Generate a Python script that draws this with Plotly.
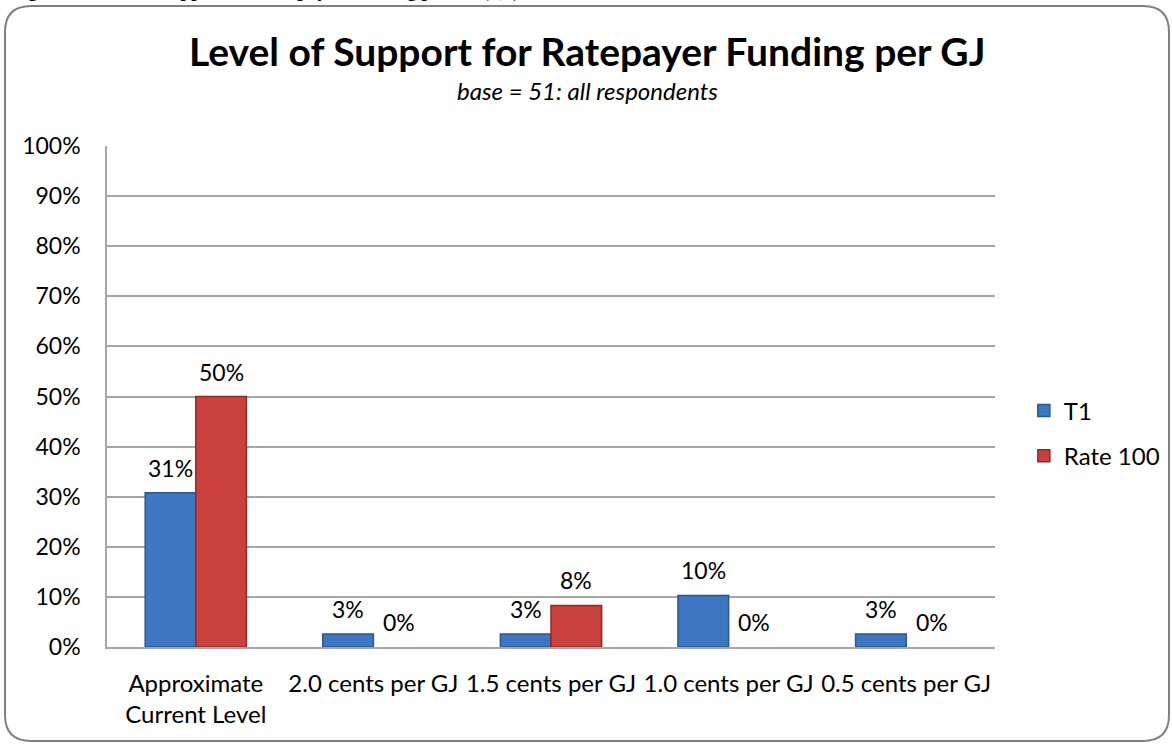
import plotly.graph_objects as go

# Survey results: share of respondents supporting each funding level
categories = [
    "Approximate<br>Current Level",
    "2.0 cents per GJ",
    "1.5 cents per GJ",
    "1.0 cents per GJ",
    "0.5 cents per GJ",
]
t1_share = [0.308, 0.026, 0.026, 0.103, 0.026]
rate100_share = [0.50, 0.0, 0.083, 0.0, 0.0]
y_ticks = [0, 0.1, 0.2, 0.3, 0.4, 0.5, 0.6, 0.7, 0.8, 0.9, 1.0]

FONT = "Lato, 'Open Sans', sans-serif"
BLUE = "#3D77C2"
BLUE_EDGE = "#2A5790"
RED = "#C9403C"
RED_EDGE = "#8E2B28"
BAR_GAP = 0.43
LABEL_SIZE = 23

fig = go.Figure()
series = [("T1", t1_share, BLUE, BLUE_EDGE), ("Rate 100", rate100_share, RED, RED_EDGE)]
for name, vals, fill, edge in series:
    fig.add_trace(go.Bar(
        name=name, x=categories, y=vals,
        marker=dict(color=fill,
                    line=dict(color=edge, width=[1.5 if v > 0 else 0 for v in vals])),
        legendgroup=name,
    ))

# Value labels above each bar, offset to the bar's slot within its group
cat_px = 888 / len(categories)
bar_px = cat_px * (1 - BAR_GAP) / len(series)
for i, (name, vals, _, _) in enumerate(series):
    offset = (i - (len(series) - 1) / 2) * bar_px
    for cat, v in zip(categories, vals):
        fig.add_annotation(
            x=cat, y=v, text=f"{v:.0%}", showarrow=False,
            xshift=offset, yshift=25, yanchor="middle", xanchor="center",
            font=dict(family=FONT, size=LABEL_SIZE, color="#000000"),
        )

fig.update_layout(
    width=1172, height=744,
    margin=dict(l=107, r=177, t=146, b=97, autoexpand=False),
    paper_bgcolor="white", plot_bgcolor="white",
    barmode="group", bargap=BAR_GAP, bargroupgap=0,
    font=dict(family=FONT, size=23, color="#000000"),
    showlegend=True,
    legend=dict(
        x=1.0325, xanchor="left", y=0.516, yanchor="top",
        font=dict(family=FONT, size=24), tracegroupgap=11,
        bgcolor="rgba(0,0,0,0)",
    ),
)

fig.update_yaxes(
    range=[0, 1], tickvals=y_ticks, tickformat=".0%",
    showgrid=True, gridcolor="#A6A6A6", gridwidth=1.5,
    showline=True, linecolor="#A6A6A6", linewidth=1.5,
    ticks="", ticklabelstandoff=20, zeroline=False,
    tickfont=dict(family=FONT, size=23),
)
fig.update_xaxes(
    showline=True, linecolor="#A6A6A6", linewidth=1.5,
    ticks="", tickfont=dict(family=FONT, size=24),
    tickangle=0, ticklabelstandoff=14,
)

# Chart title and subtitle
fig.add_annotation(
    text="<b>Level of Support for Ratepayer Funding per GJ</b>",
    xref="paper", yref="paper", x=0.541, y=1.189,
    xanchor="center", yanchor="middle", showarrow=False,
    font=dict(family=FONT, size=39, color="#000000"),
)
fig.add_annotation(
    text="<i>base = 51: all respondents</i>",
    xref="paper", yref="paper", x=0.541, y=1.110,
    xanchor="center", yanchor="middle", showarrow=False,
    font=dict(family=FONT, size=24, color="#000000"),
)
# Document caption running above the chart frame
fig.add_annotation(
    text="<b>Figure 4: Level of Support for Ratepayer Funding per GJ (Q6)</b>",
    xref="paper", yref="paper", x=-0.11, y=1.283,
    xanchor="left", yanchor="bottom", showarrow=False,
    font=dict(family="Liberation Serif, serif", size=19, color="#000000"),
)

# Rounded frame around the chart area
r = 26
x0, y0, x1, y1 = 5, 6, 1169, 741
def px(x):
    return (x - 107) / 888
def py(y):
    return (647 - y) / 501
path = (
    f"M {px(x0 + r)} {py(y0)} L {px(x1 - r)} {py(y0)} "
    f"Q {px(x1)} {py(y0)} {px(x1)} {py(y0 + r)} "
    f"L {px(x1)} {py(y1 - r)} Q {px(x1)} {py(y1)} {px(x1 - r)} {py(y1)} "
    f"L {px(x0 + r)} {py(y1)} Q {px(x0)} {py(y1)} {px(x0)} {py(y1 - r)} "
    f"L {px(x0)} {py(y0 + r)} Q {px(x0)} {py(y0)} {px(x0 + r)} {py(y0)} Z"
)
fig.add_shape(type="path", path=path, xref="paper", yref="paper",
              line=dict(color="#808080", width=2), layer="below")

fig.write_html("out.html")
